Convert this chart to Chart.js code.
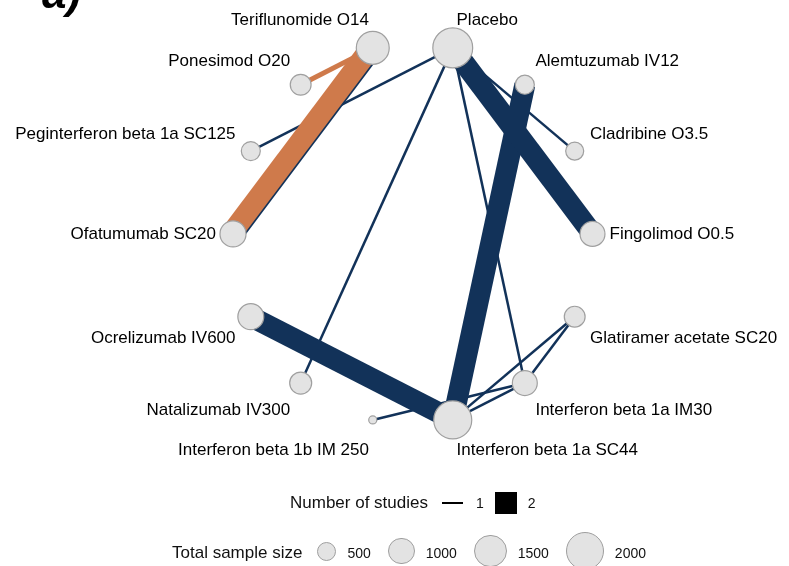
<!DOCTYPE html>
<html>
<head>
<meta charset="utf-8">
<script src="https://cdn.jsdelivr.net/npm/chart.js@4.4.1/dist/chart.umd.min.js"></script>
<style>
  html, body { margin: 0; padding: 0; background: #fff; }
  body { width: 789px; height: 566px; position: relative; overflow: hidden; font-family: "Liberation Sans", Arial, sans-serif; color: #111; }
  #net { position: absolute; left: 0; top: 0; }
  .tag { position: absolute; left: 42px; top: -32px; font: bold italic 44px "Liberation Sans", Arial, sans-serif; color: #000; }
  .legend-row { position: absolute; height: 40px; display: flex; align-items: center; font-size: 17px; white-space: nowrap; }
  .legend-row .num { font-size: 14px; }
  .dash { width: 21px; height: 2.5px; background: #000; }
  .square { width: 22px; height: 22px; background: #000; }
  .dot { border-radius: 50%; background: #e3e3e3; border: 1px solid #9e9e9e; box-sizing: border-box; }
</style>
</head>
<body>
<canvas id="net" width="789" height="566"></canvas>
<div class="tag">a)</div>
<div class="legend-row" id="studiesLegend" style="left:290px; top:483px;"></div>
<div class="legend-row" id="sizeLegend" style="left:172px; top:533px;"></div>
<script>
// treatments, clockwise from the top of the circle
const treatments = [
    'Placebo', 'Alemtuzumab IV12', 'Cladribine O3.5', 'Fingolimod O0.5',
    'Glatiramer acetate SC20', 'Interferon beta 1a IM30', 'Interferon beta 1a SC44',
    'Interferon beta 1b IM 250', 'Natalizumab IV300', 'Ocrelizumab IV600',
    'Ofatumumab SC20', 'Peginterferon beta 1a SC125', 'Ponesimod O20', 'Teriflunomide O14'
];
const sampleSize = [2200, 500, 450, 860, 600, 860, 2000, 90, 670, 930, 940, 500, 600, 1500];

// direct comparisons
const edgeFrom = [
    'Placebo', 'Placebo', 'Placebo', 'Placebo', 'Placebo',
    'Alemtuzumab IV12', 'Ocrelizumab IV600', 'Interferon beta 1b IM 250',
    'Interferon beta 1a SC44', 'Interferon beta 1a SC44', 'Interferon beta 1a IM30',
    'Teriflunomide O14'
];
const edgeTo = [
    'Fingolimod O0.5', 'Cladribine O3.5', 'Natalizumab IV300', 'Interferon beta 1a IM30', 'Peginterferon beta 1a SC125',
    'Interferon beta 1a SC44', 'Interferon beta 1a SC44', 'Interferon beta 1a IM30',
    'Interferon beta 1a IM30', 'Glatiramer acetate SC20', 'Glatiramer acetate SC20',
    'Ofatumumab SC20'
];
const edgeStudies = [2, 1, 1, 1, 1, 2, 2, 1, 1, 1, 1, 2];

// highlighted comparisons
const highlightFrom = ['Teriflunomide O14', 'Teriflunomide O14'];
const highlightTo = ['Ofatumumab SC20', 'Ponesimod O20'];
const highlightStudies = [2, 1];

// legend keys
const studyKeys = [1, 2];
const sizeKeys = [500, 1000, 1500, 2000];

const NAVY = '#123259';
const ORANGE = '#cf7a4b';
const NODE_FILL = '#e3e3e3';
const NODE_BORDER = '#a0a0a0';

const edgeWidth = n => n >= 2 ? 21 : 2.5;
const nodeRadius = n => 0.425 * Math.sqrt(n);

function nodePos(name) {
    const i = treatments.indexOf(name);
    const t = (i + 0.5) * 2 * Math.PI / treatments.length;
    return { x: Math.sin(t), y: Math.cos(t) };
}

const datasets = [];

datasets.push({
    type: 'bubble',
    order: 0,
    data: treatments.map((name, i) => ({ ...nodePos(name), r: nodeRadius(sampleSize[i]) })),
    backgroundColor: NODE_FILL,
    borderColor: NODE_BORDER,
    borderWidth: 1.2,
    clip: false
});

highlightFrom.forEach((from, i) => {
    datasets.push({
        type: 'line',
        order: 1,
        shift: highlightStudies[i] >= 2 ? [-1.3, -1.0] : null,
        data: [nodePos(from), nodePos(highlightTo[i])],
        borderColor: ORANGE,
        borderWidth: highlightStudies[i] >= 2 ? edgeWidth(2) : 5,
        borderCapStyle: 'butt',
        pointRadius: 0,
        showLine: true,
        clip: false
    });
});

edgeFrom.forEach((from, i) => {
    datasets.push({
        type: 'line',
        order: edgeStudies[i] >= 2 ? 2 : 3,
        data: [nodePos(from), nodePos(edgeTo[i])],
        borderColor: NAVY,
        borderWidth: edgeWidth(edgeStudies[i]),
        borderCapStyle: 'butt',
        pointRadius: 0,
        showLine: true,
        clip: false
    });
});

// nudges the highlighted edge so the plain edge underneath peeks out
const shiftPlugin = {
    id: 'shift',
    beforeDatasetDraw(chart, args) {
        const s = chart.data.datasets[args.index].shift;
        if (s) {
            chart.ctx.save();
            chart.ctx.translate(s[0], s[1]);
        }
    },
    afterDatasetDraw(chart, args) {
        if (chart.data.datasets[args.index].shift) chart.ctx.restore();
    }
};

const labelPlugin = {
    id: 'nodeLabels',
    afterDatasetsDraw(chart) {
        const { ctx, scales: { x, y } } = chart;
        ctx.save();
        ctx.font = '17px "Liberation Sans", Arial, sans-serif';
        ctx.fillStyle = '#000';
        ctx.textBaseline = 'middle';
        treatments.forEach(name => {
            const p = nodePos(name);
            const px = x.getPixelForValue(p.x);
            const py = y.getPixelForValue(p.y);
            const dx = 17 * p.x;
            let dy = 0;
            if (p.y > 0.01) dy = -(8 + 20 * p.y);
            else if (p.y < -0.01) dy = 14 + 17 * -p.y;
            ctx.textAlign = p.x >= 0 ? 'left' : 'right';
            ctx.fillText(name, px + dx, py + dy);
        });
        ctx.restore();
    }
};

new Chart(document.getElementById('net'), {
    type: 'scatter',
    data: { datasets },
    options: {
        responsive: false,
        animation: false,
        events: [],
        layout: { padding: 0, autoPadding: false },
        scales: {
            x: { display: false, min: -2.2963, max: 2.0932 },
            y: { display: false, min: -1.7406, max: 1.2259 }
        },
        plugins: {
            legend: { display: false },
            tooltip: { enabled: false }
        }
    },
    plugins: [shiftPlugin, labelPlugin]
});

// legends
const studiesLegend = document.getElementById('studiesLegend');
studiesLegend.innerHTML = '<span>Number of studies</span>' + studyKeys.map((n, i) => `
    <div class="${n >= 2 ? 'square' : 'dash'}" style="margin-left:${i === 0 ? 14 : 11}px"></div>
    <span class="num" style="margin-left:${i === 0 ? 13 : 11}px">${n}</span>`).join('');

const sizeLegend = document.getElementById('sizeLegend');
sizeLegend.innerHTML = '<span>Total sample size</span>' + sizeKeys.map((n, i) => {
    const d = 2 * nodeRadius(n);
    return `<div class="dot" style="width:${d}px;height:${d}px;margin-left:${i === 0 ? 15 : 17}px;margin-top:-4px"></div>
    <span class="num" style="margin-left:11px">${n}</span>`;
}).join('');
</script>
</body>
</html>
